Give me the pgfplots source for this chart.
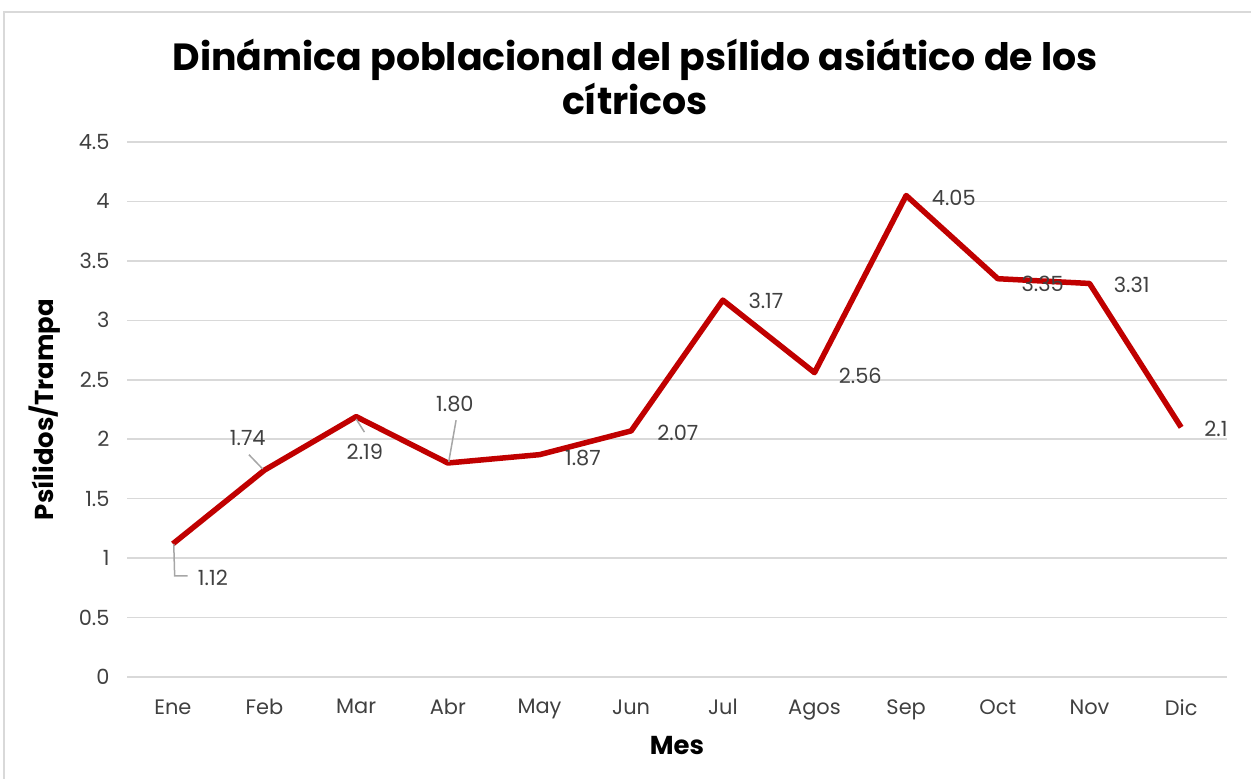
\documentclass[border=0pt]{standalone}
\usepackage{pgfplots}
\pgfplotsset{compat=1.18}
\usepackage{fontspec}
\setmainfont{Poppins}
\definecolor{linered}{HTML}{C00000}
\definecolor{txtgray}{HTML}{404040}
\definecolor{gridgray}{HTML}{D9D9D9}
\definecolor{leadgray}{HTML}{A6A6A6}
\begin{document}
\begin{tikzpicture}[x=1bp,y=1bp]
\path[use as bounding box] (0,0) rectangle (1251,779);
\draw[gridgray,line width=1.5bp] (4,-20) rectangle (1270,767);
\node[font=\fontsize{38}{44}\selectfont\bfseries,align=center,anchor=center] at (635,702)
  {Dinámica poblacional del psílido asiático de los\\cítricos};
\begin{axis}[
  at={(127bp,102bp)}, anchor=south west,
  scale only axis,
  width=1100bp, height=535bp,
  xmin=-0.5, xmax=11.5,
  ymin=0, ymax=4.5,
  xtick={0,...,11},
  xticklabels={Ene,Feb,Mar,Abr,May,Jun,Jul,Agos,Sep,Oct,Nov,Dic},
  ytick={0,0.5,...,4.5},
  yticklabel style={/pgf/number format/fixed},
  /pgf/number format/assume math mode=true,
  axis line style={draw=none},
  major tick length=0pt,
  ymajorgrids,
  grid style={gridgray,line width=1.5bp},
  ticklabel style={font=\fontsize{21}{25}\selectfont,text=txtgray},
  yticklabel style={xshift=-14bp},
  xticklabel style={yshift=-19bp},
  xlabel={Mes},
  ylabel={Psílidos/Trampa},
  label style={font=\fontsize{26}{30}\selectfont\bfseries},
  xlabel style={yshift=-10bp},
  ylabel style={yshift=12bp},
  clip=false,
]
\addplot[linered,line width=5.5bp,line join=round] coordinates {
(0,1.12) (1,1.74) (2,2.19) (3,1.80) (4,1.87) (5,2.07)
(6,3.17) (7,2.56) (8,4.05) (9,3.35) (10,3.31) (11,2.1)
};
% leader lines
\draw[leadgray,line width=1.5bp] (axis cs:0.01,1.12) -- (axis cs:0.02,0.85) -- (axis cs:0.16,0.85);
\draw[leadgray,line width=1.5bp] (axis cs:0.83,1.87) -- (axis cs:0.98,1.75);
\draw[leadgray,line width=1.5bp] (axis cs:2.0,2.17) -- (axis cs:2.09,2.06);
\draw[leadgray,line width=1.5bp] (axis cs:3.09,2.16) -- (axis cs:3.01,1.81);
% data labels
\begin{scope}[every node/.style={font=\fontsize{21}{25}\selectfont,text=txtgray}]
\node at (axis cs:0.437,0.83) {1.12};
\node at (axis cs:0.818,2.01) {1.74};
\node at (axis cs:2.095,1.89) {2.19};
\node at (axis cs:3.077,2.30) {1.80};
\node at (axis cs:4.474,1.84) {1.87};
\node at (axis cs:5.51,2.05) {2.07};
\node at (axis cs:6.47,3.16) {3.17};
\node at (axis cs:7.50,2.53) {2.56};
\node at (axis cs:8.52,4.03) {4.05};
\node at (axis cs:9.49,3.31) {3.35};
\node at (axis cs:10.46,3.30) {3.31};
\node at (axis cs:11.38,2.09) {2.1};
\end{scope}
\end{axis}
\end{tikzpicture}
\end{document}
